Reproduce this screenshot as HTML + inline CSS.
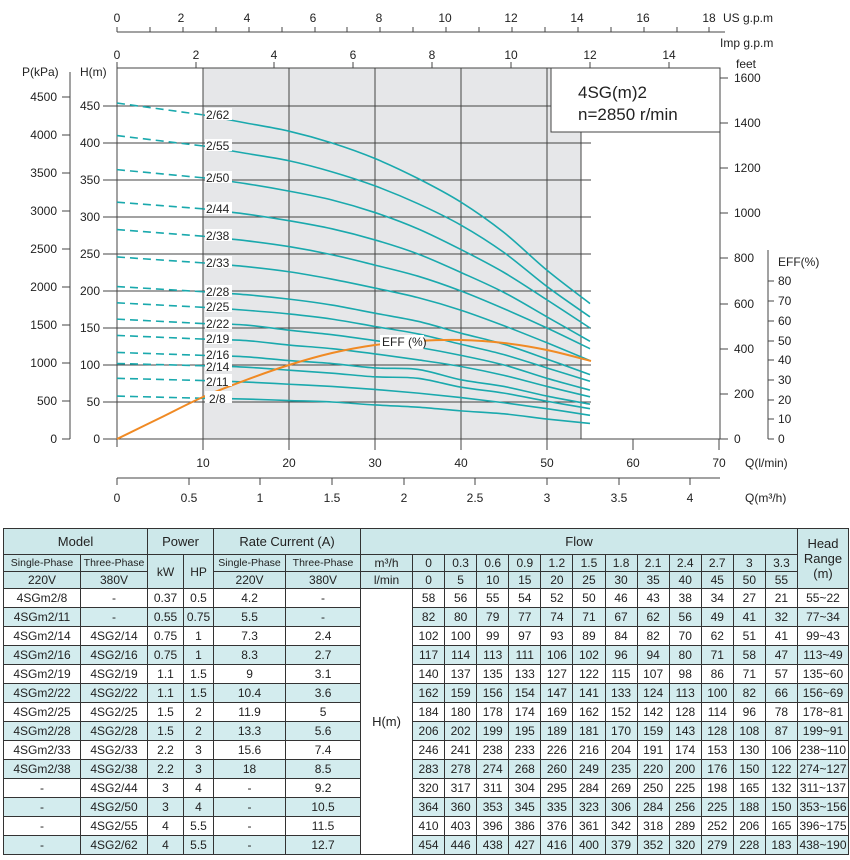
<!DOCTYPE html>
<html><head><meta charset="utf-8">
<style>
body{margin:0;background:#fff;width:850px;height:860px;overflow:hidden;position:relative;font-family:"Liberation Sans",sans-serif}
svg{position:absolute;left:0;top:0}
svg text{font-family:"Liberation Sans",sans-serif;font-size:12px;fill:#222}
table{position:absolute;left:3px;top:528px;border-collapse:collapse;table-layout:fixed;width:845px;font-size:12px;color:#222}
td{border:1px solid #333;text-align:center;padding:0;white-space:nowrap;overflow:hidden}
.h td{background:#cde8ea}
tr.s td{background:#d3ecee}
tr.d td{height:18px}
td.w{background:#fff !important;font-size:13px}
</style></head><body>
<svg width="850" height="520" viewBox="0 0 850 520">
<rect x="203" y="68" width="378" height="371" fill="#e6e7e9"/>
<g stroke="#444" stroke-width="1">
<line x1="203" y1="68" x2="203" y2="450"/><line x1="289" y1="68" x2="289" y2="450"/><line x1="375" y1="68" x2="375" y2="450"/><line x1="461" y1="68" x2="461" y2="450"/><line x1="547" y1="68" x2="547" y2="450"/><line x1="633" y1="439" x2="633" y2="450"/><line x1="719" y1="439" x2="719" y2="450"/>
<line x1="581" y1="68" x2="581" y2="439"/>
<line x1="103" y1="402" x2="591" y2="402"/><line x1="103" y1="365" x2="591" y2="365"/><line x1="103" y1="328" x2="591" y2="328"/><line x1="103" y1="291" x2="591" y2="291"/><line x1="103" y1="254" x2="591" y2="254"/><line x1="103" y1="217" x2="591" y2="217"/><line x1="103" y1="180" x2="591" y2="180"/><line x1="103" y1="143" x2="591" y2="143"/><line x1="103" y1="106" x2="591" y2="106"/>
<line x1="103" y1="439" x2="720" y2="439"/>
<line x1="117" y1="68" x2="720" y2="68"/><line x1="117" y1="68" x2="117" y2="447"/><line x1="720" y1="68" x2="720" y2="439"/>
<line x1="70" y1="72" x2="70" y2="439"/>
<line x1="117" y1="32" x2="725" y2="32"/>
<line x1="117" y1="478" x2="720" y2="478"/>
<line x1="768" y1="250" x2="768" y2="439"/>
</g>
<g id="curves"></g>
<rect x="551" y="68" width="169" height="64" fill="#fff" stroke="#444"/>
<text x="578" y="98" style="font-size:17px">4SG(m)2</text>
<text x="578" y="120" style="font-size:17px">n=2850 r/min</text>
<g id="labels" fill="#fff"></g>
<g>
<text x="206" y="119">2/62</text><text x="206" y="150">2/55</text><text x="206" y="182">2/50</text><text x="206" y="213">2/44</text><text x="206" y="240">2/38</text><text x="206" y="267">2/33</text><text x="206" y="296">2/28</text><text x="206" y="311">2/25</text><text x="206" y="328">2/22</text><text x="206" y="343">2/19</text><text x="206" y="359">2/16</text><text x="206" y="371">2/14</text><text x="206" y="386">2/11</text><text x="209" y="403">2/8</text>
<text x="382" y="346">EFF (%)</text>
</g>
<g font-size="12">
<text x="22" y="76">P(kPa)</text><text x="80" y="76">H(m)</text>
<g>
<text x="57" y="443" text-anchor="end">0</text><text x="57" y="405" text-anchor="end">500</text><text x="57" y="367" text-anchor="end">1000</text><text x="57" y="329" text-anchor="end">1500</text><text x="57" y="291" text-anchor="end">2000</text><text x="57" y="253" text-anchor="end">2500</text><text x="57" y="215" text-anchor="end">3000</text><text x="57" y="177" text-anchor="end">3500</text><text x="57" y="139" text-anchor="end">4000</text><text x="57" y="101" text-anchor="end">4500</text>
<text x="100" y="443" text-anchor="end">0</text><text x="100" y="406" text-anchor="end">50</text><text x="100" y="369" text-anchor="end">100</text><text x="100" y="332" text-anchor="end">150</text><text x="100" y="295" text-anchor="end">200</text><text x="100" y="258" text-anchor="end">250</text><text x="100" y="221" text-anchor="end">300</text><text x="100" y="184" text-anchor="end">350</text><text x="100" y="147" text-anchor="end">400</text><text x="100" y="110" text-anchor="end">450</text>
</g>
<g stroke="#444"><line x1="62" y1="439" x2="70" y2="439"/><line x1="62" y1="401" x2="70" y2="401"/><line x1="62" y1="363" x2="70" y2="363"/><line x1="62" y1="325" x2="70" y2="325"/><line x1="62" y1="287" x2="70" y2="287"/><line x1="62" y1="249" x2="70" y2="249"/><line x1="62" y1="211" x2="70" y2="211"/><line x1="62" y1="173" x2="70" y2="173"/><line x1="62" y1="135" x2="70" y2="135"/><line x1="62" y1="97" x2="70" y2="97"/>
<line x1="720" y1="439" x2="728" y2="439"/><line x1="720" y1="394" x2="728" y2="394"/><line x1="720" y1="349" x2="728" y2="349"/><line x1="720" y1="304" x2="728" y2="304"/><line x1="720" y1="258" x2="728" y2="258"/><line x1="720" y1="213" x2="728" y2="213"/><line x1="720" y1="168" x2="728" y2="168"/><line x1="720" y1="123" x2="728" y2="123"/><line x1="720" y1="78" x2="728" y2="78"/>
<line x1="768" y1="439" x2="774" y2="439"/><line x1="768" y1="419" x2="774" y2="419"/><line x1="768" y1="400" x2="774" y2="400"/><line x1="768" y1="380" x2="774" y2="380"/><line x1="768" y1="360" x2="774" y2="360"/><line x1="768" y1="341" x2="774" y2="341"/><line x1="768" y1="321" x2="774" y2="321"/><line x1="768" y1="301" x2="774" y2="301"/><line x1="768" y1="281" x2="774" y2="281"/>
</g>
<text x="734" y="82">1600</text><text x="734" y="127">1400</text><text x="734" y="172">1200</text><text x="734" y="217">1000</text><text x="734" y="262">800</text><text x="734" y="308">600</text><text x="734" y="353">400</text><text x="734" y="398">200</text><text x="734" y="443">0</text>
<text x="736" y="68">feet</text>
<text x="778" y="266">EFF(%)</text>
<text x="778" y="285">80</text><text x="778" y="305">70</text><text x="778" y="325">60</text><text x="778" y="345">50</text><text x="778" y="364">40</text><text x="778" y="384">30</text><text x="778" y="404">20</text><text x="778" y="423">10</text><text x="778" y="443">0</text>
<g text-anchor="middle">
<text x="203" y="467">10</text><text x="289" y="467">20</text><text x="375" y="467">30</text><text x="461" y="467">40</text><text x="547" y="467">50</text><text x="633" y="467">60</text><text x="719" y="467">70</text>
<text x="117" y="502">0</text><text x="189" y="502">0.5</text><text x="260" y="502">1</text><text x="332" y="502">1.5</text><text x="404" y="502">2</text><text x="475" y="502">2.5</text><text x="547" y="502">3</text><text x="619" y="502">3.5</text><text x="690" y="502">4</text>
<text x="117" y="22">0</text><text x="181" y="22">2</text><text x="247" y="22">4</text><text x="313" y="22">6</text><text x="379" y="22">8</text><text x="445" y="22">10</text><text x="511" y="22">12</text><text x="577" y="22">14</text><text x="643" y="22">16</text><text x="709" y="22">18</text>
<text x="117" y="59">0</text><text x="196" y="59">2</text><text x="274" y="59">4</text><text x="353" y="59">6</text><text x="432" y="59">8</text><text x="511" y="59">10</text><text x="590" y="59">12</text><text x="669" y="59">14</text>
</g>
<g stroke="#444"><line x1="117" y1="27" x2="117" y2="32"/><line x1="150" y1="27" x2="150" y2="32"/><line x1="183" y1="27" x2="183" y2="32"/><line x1="216" y1="27" x2="216" y2="32"/><line x1="249" y1="27" x2="249" y2="32"/><line x1="282" y1="27" x2="282" y2="32"/><line x1="315" y1="27" x2="315" y2="32"/><line x1="347" y1="27" x2="347" y2="32"/><line x1="380" y1="27" x2="380" y2="32"/><line x1="413" y1="27" x2="413" y2="32"/><line x1="446" y1="27" x2="446" y2="32"/><line x1="479" y1="27" x2="479" y2="32"/><line x1="512" y1="27" x2="512" y2="32"/><line x1="545" y1="27" x2="545" y2="32"/><line x1="578" y1="27" x2="578" y2="32"/><line x1="611" y1="27" x2="611" y2="32"/><line x1="644" y1="27" x2="644" y2="32"/><line x1="677" y1="27" x2="677" y2="32"/><line x1="709" y1="27" x2="709" y2="32"/>
<line x1="117" y1="62" x2="117" y2="68"/><line x1="196" y1="62" x2="196" y2="68"/><line x1="274" y1="62" x2="274" y2="68"/><line x1="353" y1="62" x2="353" y2="68"/><line x1="432" y1="62" x2="432" y2="68"/><line x1="511" y1="62" x2="511" y2="68"/><line x1="590" y1="62" x2="590" y2="68"/><line x1="669" y1="62" x2="669" y2="68"/>
<line x1="117" y1="478" x2="117" y2="485"/><line x1="189" y1="478" x2="189" y2="485"/><line x1="260" y1="478" x2="260" y2="485"/><line x1="332" y1="478" x2="332" y2="485"/><line x1="404" y1="478" x2="404" y2="485"/><line x1="475" y1="478" x2="475" y2="485"/><line x1="547" y1="478" x2="547" y2="485"/><line x1="619" y1="478" x2="619" y2="485"/><line x1="690" y1="478" x2="690" y2="485"/>
</g>
<text x="723" y="22">US g.p.m</text>
<text x="720" y="47">Imp g.p.m</text>
<text x="745" y="467">Q(l/min)</text>
<text x="745" y="502">Q(m³/h)</text>
</g>
</svg>
<table>
<colgroup><col style="width:77px"><col style="width:67px"><col style="width:36px"><col style="width:30px"><col style="width:72px"><col style="width:75px"><col style="width:52px"><col span="12" style="width:32.08px"><col style="width:51px"></colgroup>
<tr class="h" style="height:26px"><td colspan="2" style="font-size:13px">Model</td><td colspan="2" style="font-size:13px">Power</td><td colspan="2" style="font-size:13px">Rate Current (A)</td><td colspan="13" style="font-size:13px">Flow</td><td rowspan="3" style="font-size:13px;white-space:normal">Head Range (m)</td></tr>
<tr class="h" style="height:17px"><td style="font-size:10.5px">Single-Phase</td><td style="font-size:10.5px">Three-Phase</td><td rowspan="2">kW</td><td rowspan="2">HP</td><td style="font-size:10.5px">Single-Phase</td><td style="font-size:10.5px">Three-Phase</td><td>m³/h</td><td>0</td><td>0.3</td><td>0.6</td><td>0.9</td><td>1.2</td><td>1.5</td><td>1.8</td><td>2.1</td><td>2.4</td><td>2.7</td><td>3</td><td>3.3</td></tr>
<tr class="h" style="height:17px"><td>220V</td><td>380V</td><td>220V</td><td>380V</td><td>l/min</td><td>0</td><td>5</td><td>10</td><td>15</td><td>20</td><td>25</td><td>30</td><td>35</td><td>40</td><td>45</td><td>50</td><td>55</td></tr>
<tr class="d"><td>4SGm2/8</td><td>-</td><td>0.37</td><td>0.5</td><td>4.2</td><td>-</td><td rowspan="14" class="w">H(m)</td><td>58</td><td>56</td><td>55</td><td>54</td><td>52</td><td>50</td><td>46</td><td>43</td><td>38</td><td>34</td><td>27</td><td>21</td><td>55~22</td></tr>
<tr class="d s"><td>4SGm2/11</td><td>-</td><td>0.55</td><td>0.75</td><td>5.5</td><td>-</td><td>82</td><td>80</td><td>79</td><td>77</td><td>74</td><td>71</td><td>67</td><td>62</td><td>56</td><td>49</td><td>41</td><td>32</td><td>77~34</td></tr>
<tr class="d"><td>4SGm2/14</td><td>4SG2/14</td><td>0.75</td><td>1</td><td>7.3</td><td>2.4</td><td>102</td><td>100</td><td>99</td><td>97</td><td>93</td><td>89</td><td>84</td><td>82</td><td>70</td><td>62</td><td>51</td><td>41</td><td>99~43</td></tr>
<tr class="d s"><td>4SGm2/16</td><td>4SG2/16</td><td>0.75</td><td>1</td><td>8.3</td><td>2.7</td><td>117</td><td>114</td><td>113</td><td>111</td><td>106</td><td>102</td><td>96</td><td>94</td><td>80</td><td>71</td><td>58</td><td>47</td><td>113~49</td></tr>
<tr class="d"><td>4SGm2/19</td><td>4SG2/19</td><td>1.1</td><td>1.5</td><td>9</td><td>3.1</td><td>140</td><td>137</td><td>135</td><td>133</td><td>127</td><td>122</td><td>115</td><td>107</td><td>98</td><td>86</td><td>71</td><td>57</td><td>135~60</td></tr>
<tr class="d s"><td>4SGm2/22</td><td>4SG2/22</td><td>1.1</td><td>1.5</td><td>10.4</td><td>3.6</td><td>162</td><td>159</td><td>156</td><td>154</td><td>147</td><td>141</td><td>133</td><td>124</td><td>113</td><td>100</td><td>82</td><td>66</td><td>156~69</td></tr>
<tr class="d"><td>4SGm2/25</td><td>4SG2/25</td><td>1.5</td><td>2</td><td>11.9</td><td>5</td><td>184</td><td>180</td><td>178</td><td>174</td><td>169</td><td>162</td><td>152</td><td>142</td><td>128</td><td>114</td><td>96</td><td>78</td><td>178~81</td></tr>
<tr class="d s"><td>4SGm2/28</td><td>4SG2/28</td><td>1.5</td><td>2</td><td>13.3</td><td>5.6</td><td>206</td><td>202</td><td>199</td><td>195</td><td>189</td><td>181</td><td>170</td><td>159</td><td>143</td><td>128</td><td>108</td><td>87</td><td>199~91</td></tr>
<tr class="d"><td>4SGm2/33</td><td>4SG2/33</td><td>2.2</td><td>3</td><td>15.6</td><td>7.4</td><td>246</td><td>241</td><td>238</td><td>233</td><td>226</td><td>216</td><td>204</td><td>191</td><td>174</td><td>153</td><td>130</td><td>106</td><td>238~110</td></tr>
<tr class="d s"><td>4SGm2/38</td><td>4SG2/38</td><td>2.2</td><td>3</td><td>18</td><td>8.5</td><td>283</td><td>278</td><td>274</td><td>268</td><td>260</td><td>249</td><td>235</td><td>220</td><td>200</td><td>176</td><td>150</td><td>122</td><td>274~127</td></tr>
<tr class="d"><td>-</td><td>4SG2/44</td><td>3</td><td>4</td><td>-</td><td>9.2</td><td>320</td><td>317</td><td>311</td><td>304</td><td>295</td><td>284</td><td>269</td><td>250</td><td>225</td><td>198</td><td>165</td><td>132</td><td>311~137</td></tr>
<tr class="d s"><td>-</td><td>4SG2/50</td><td>3</td><td>4</td><td>-</td><td>10.5</td><td>364</td><td>360</td><td>353</td><td>345</td><td>335</td><td>323</td><td>306</td><td>284</td><td>256</td><td>225</td><td>188</td><td>150</td><td>353~156</td></tr>
<tr class="d"><td>-</td><td>4SG2/55</td><td>4</td><td>5.5</td><td>-</td><td>11.5</td><td>410</td><td>403</td><td>396</td><td>386</td><td>376</td><td>361</td><td>342</td><td>318</td><td>289</td><td>252</td><td>206</td><td>165</td><td>396~175</td></tr>
<tr class="d s"><td>-</td><td>4SG2/62</td><td>4</td><td>5.5</td><td>-</td><td>12.7</td><td>454</td><td>446</td><td>438</td><td>427</td><td>416</td><td>400</td><td>379</td><td>352</td><td>320</td><td>279</td><td>228</td><td>183</td><td>438~190</td></tr>
</table>
<script>
var D=[[58,56,55,54,52,50,46,43,38,34,27,21],[82,80,79,77,74,71,67,62,56,49,41,32],[102,100,99,97,93,89,84,82,70,62,51,41],[117,114,113,111,106,102,96,94,80,71,58,47],[140,137,135,133,127,122,115,107,98,86,71,57],[162,159,156,154,147,141,133,124,113,100,82,66],[184,180,178,174,169,162,152,142,128,114,96,78],[206,202,199,195,189,181,170,159,143,128,108,87],[246,241,238,233,226,216,204,191,174,153,130,106],[283,278,274,268,260,249,235,220,200,176,150,122],[320,317,311,304,295,284,269,250,225,198,165,132],[364,360,353,345,335,323,306,284,256,225,188,150],[410,403,396,386,376,361,342,318,289,252,206,165],[454,446,438,427,416,400,379,352,320,279,228,183]];
function smooth(p){var s="M"+p[0][0]+","+p[0][1];for(var i=0;i<p.length-1;i++){var p0=p[i-1]||p[i],p1=p[i],p2=p[i+1],p3=p[i+2]||p2;s+=" C"+(p1[0]+(p2[0]-p0[0])/6)+","+(p1[1]+(p2[1]-p0[1])/6)+" "+(p2[0]-(p3[0]-p1[0])/6)+","+(p2[1]-(p3[1]-p1[1])/6)+" "+p2[0]+","+p2[1];}return s;}
var g=document.getElementById("curves"),h="";
D.forEach(function(r){var pts=r.map(function(v,i){return[117+8.6*5*i,439-0.74*v];});
h+='<line x1="117" y1="'+pts[0][1]+'" x2="203" y2="'+pts[2][1]+'" stroke="#1aa9ad" stroke-width="1.6" stroke-dasharray="8,5"/>';
h+='<path d="'+smooth(pts.slice(2))+'" fill="none" stroke="#1aa9ad" stroke-width="1.6"/>';});
var e=[[117,439],[160,418],[203,397],[246,380],[289,365],[332,353],[375,345],[418,341],[461,340],[504,343],[547,350],[591,361]];
h+='<path d="'+smooth(e)+'" fill="none" stroke="#f08a24" stroke-width="2"/>';
g.innerHTML=h;
var L=document.getElementById("labels"),lh="";
[115,146,178,209,236,263,292,307,324,339,355,366,381,398].forEach(function(y,i){lh+='<rect x="205" y="'+(y-7)+'" width="27" height="12"/>';});
lh+='<rect x="380" y="335" width="44" height="14"/>';
L.innerHTML=lh;
</script>
</body></html>
